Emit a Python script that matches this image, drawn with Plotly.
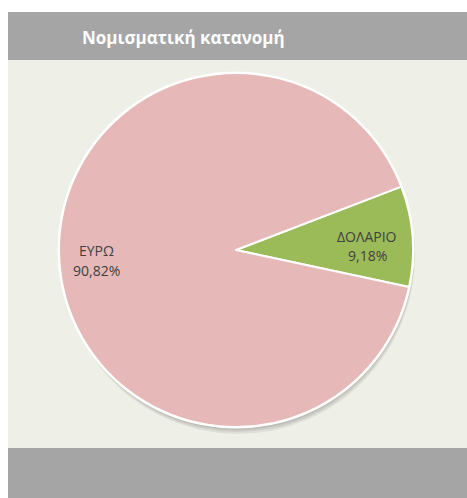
import plotly.graph_objects as go

title_text = "Νομισματική κατανομή"
labels = ["ΔΟΛΑΡΙΟ", "ΕΥΡΩ"]
values = [9.18, 90.82]
colors = ["#9BBB59", "#E6B9B8"]

W, H = 467, 498

def fmt(v):
    return f"{v:.2f}".replace(".", ",") + "%"

# pie geometry (pixels)
cx, cy, r = 236, 250, 177

fig = go.Figure()

fig.add_trace(go.Pie(
    labels=labels,
    values=values,
    marker=dict(colors=colors, line=dict(color="white", width=2)),
    sort=False,
    direction="clockwise",
    rotation=69,
    textinfo="none",
    hoverinfo="label+percent",
    showlegend=False,
    domain=dict(x=[(cx - r) / W, (cx + r) / W], y=[1 - (cy + r) / H, 1 - (cy - r) / H]),
))

shapes = [
    # header band
    dict(type="rect", xref="paper", yref="paper", x0=8 / W, x1=1, y0=1 - 60 / H, y1=1 - 12 / H,
         fillcolor="#A5A5A5", line=dict(width=0), layer="below"),
    # patterned background area
    dict(type="rect", xref="paper", yref="paper", x0=8 / W, x1=1, y0=1 - 448 / H, y1=1 - 60 / H,
         fillcolor="#EEEFE6", line=dict(width=0), layer="below"),
    # footer band
    dict(type="rect", xref="paper", yref="paper", x0=8 / W, x1=1, y0=0, y1=1 - 448 / H,
         fillcolor="#A5A5A5", line=dict(width=0), layer="below"),
]
# soft shadow under pie
for off, op in [(7, 0.10), (5, 0.12), (3, 0.15)]:
    shapes.append(dict(type="circle", xref="paper", yref="paper",
                       x0=(cx - r + off * 0.3) / W, x1=(cx + r + off * 0.3) / W,
                       y0=1 - (cy + r + off) / H, y1=1 - (cy - r + off * 0.3) / H,
                       fillcolor=f"rgba(90,90,90,{op})", line=dict(width=0), layer="below"))

# white rim
shapes.append(dict(type="circle", xref="paper", yref="paper",
                   x0=(cx - r - 1.5) / W, x1=(cx + r + 1.5) / W,
                   y0=1 - (cy + r + 1.5) / H, y1=1 - (cy - r - 1.5) / H,
                   fillcolor="white", line=dict(width=0), layer="below"))

lab_font = dict(family="Open Sans", size=14, color="#404040")

def label_pair(text1, text2, x, y1, y2):
    return [
        dict(text=text1, x=x / W, y=1 - y1 / H, xref="paper", yref="paper",
             xanchor="center", yanchor="middle", showarrow=False, font=lab_font),
        dict(text=text2, x=x / W, y=1 - y2 / H, xref="paper", yref="paper",
             xanchor="center", yanchor="middle", showarrow=False, font=lab_font),
    ]

annotations = [
    dict(text=f"<b>{title_text}</b>", x=80 / W, y=1 - 37 / H, xref="paper", yref="paper",
         xanchor="left", yanchor="middle", showarrow=False,
         font=dict(family="Open Sans", size=17, color="white")),
]
annotations += label_pair(labels[0], fmt(values[0]), 367, 236, 256)
annotations += label_pair(labels[1], fmt(values[1]), 96, 250, 270)

fig.update_layout(
    width=W, height=H,
    margin=dict(l=0, r=0, t=0, b=0),
    paper_bgcolor="white",
    plot_bgcolor="white",
    shapes=shapes,
    annotations=annotations,
    showlegend=False,
)

fig.write_html("out.html")
